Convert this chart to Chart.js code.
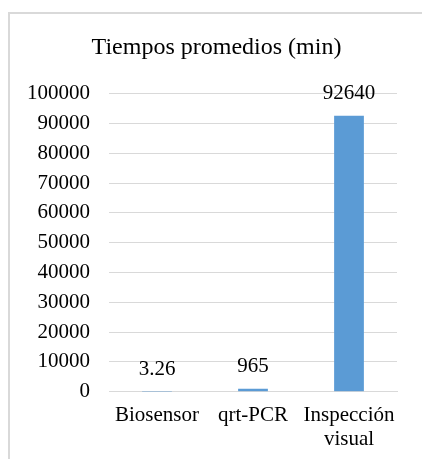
<!DOCTYPE html>
<html lang="es">
<head>
    <meta charset="UTF-8">
    <title>Tiempos promedios (min)</title>
    <script src="https://cdn.jsdelivr.net/npm/chart.js"></script>
    <style>
        body { margin: 0; background: #fff; }
        #frame { position: absolute; left: 8px; top: 12px; width: 500px; height: 500px; border: 2px solid #d9d9d9; box-sizing: border-box; }
        #wrap { position: absolute; left: 0; top: 0; width: 422px; height: 459px; }
    </style>
</head>
<body>
    <div id="frame"></div>
    <div id="wrap"><canvas id="chart"></canvas></div>

    <script>
        const categories = ['Biosensor', 'qrt-PCR', ['Inspección', 'visual']];
        const tiempos = [3.26, 965, 92640];
        const valueLabels = ['3.26', '965', '92640'];

        const serif = "'Liberation Serif', 'DejaVu Serif', serif";

        // etiquetas de datos encima de cada barra
        const barLabels = {
            id: 'barLabels',
            afterLayout(chart) {
                // el título va centrado en el marco, no en el lienzo
                chart.titleBlock.left += 12;
            },
            afterDatasetsDraw(chart) {
                const ctx = chart.ctx;
                const meta = chart.getDatasetMeta(0);
                ctx.save();
                ctx.font = '21px ' + serif;
                ctx.fillStyle = '#000';
                ctx.textAlign = 'center';
                ctx.textBaseline = 'middle';
                meta.data.forEach((bar, i) => {
                    ctx.fillText(valueLabels[i], bar.x, bar.y - 22);
                });
                ctx.restore();
            }
        };

        new Chart(document.getElementById('chart'), {
            type: 'bar',
            data: {
                labels: categories,
                datasets: [{
                    label: 'Tiempos promedios (min)',
                    data: tiempos,
                    backgroundColor: '#5b9bd5',
                    barPercentage: 1,
                    categoryPercentage: 0.31
                }]
            },
            options: {
                responsive: true,
                maintainAspectRatio: false,
                animation: false,
                layout: { autoPadding: false, padding: { left: 24, right: 25, top: 33, bottom: -5 } },
                plugins: {
                    legend: { display: false },
                    tooltip: { enabled: false },
                    title: {
                        display: true,
                        text: 'Tiempos promedios (min)',
                        color: '#000',
                        font: { family: serif, size: 24, weight: 'normal' },
                        padding: { top: 0, bottom: 32 }
                    }
                },
                scales: {
                    x: {
                        grid: { display: false, drawTicks: false },
                        border: { color: '#d9d9d9', width: 1 },
                        ticks: {
                            color: '#000',
                            font: { family: serif, size: 21, lineHeight: 1.15 },
                            padding: 12,
                            maxRotation: 0,
                            autoSkip: false
                        }
                    },
                    y: {
                        min: 0,
                        max: 100000,
                        grid: { color: '#d9d9d9', lineWidth: 1, drawTicks: false },
                        border: { display: false },
                        afterFit: scale => { scale.width = 85; },
                        ticks: {
                            stepSize: 10000,
                            color: '#000',
                            font: { family: serif, size: 21 },
                            padding: 19,
                            callback: v => String(v)
                        }
                    }
                }
            },
            plugins: [barLabels]
        });
    </script>
</body>
</html>
